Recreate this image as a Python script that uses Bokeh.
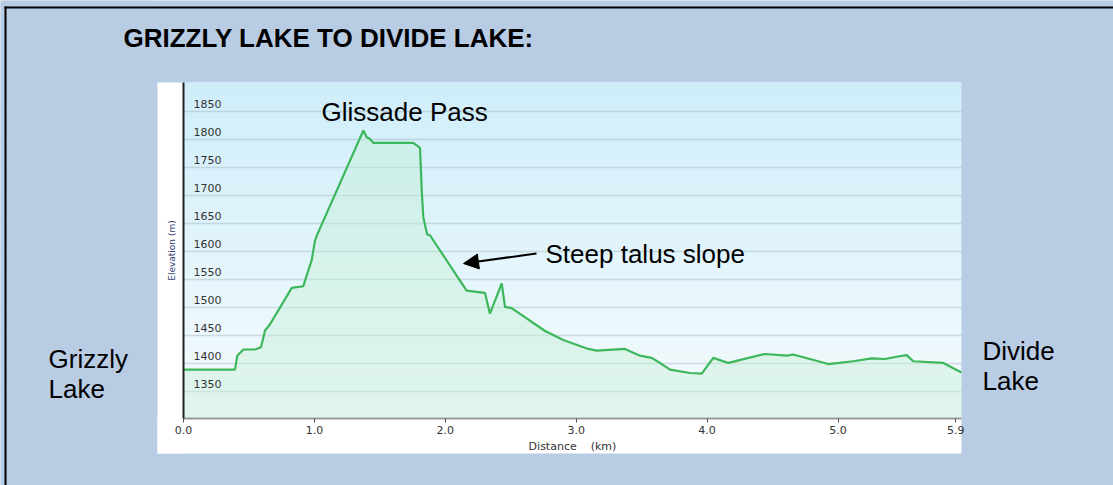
import numpy as np
from bokeh.plotting import figure
from bokeh.models import Label, BoxAnnotation, Arrow, NormalHead, FixedTicker, Range1d, PrintfTickFormatter
from bokeh.core.properties import value
from bokeh.embed import file_html
from bokeh.resources import INLINE

# ---------------- data ----------------
distance_km = [0.000, 0.393, 0.411, 0.457, 0.546, 0.592, 0.623, 0.661, 0.827, 0.915,
               0.953, 0.979, 1.005, 1.025, 1.374, 1.400, 1.425, 1.450, 1.756, 1.807,
               1.820, 1.832, 1.862, 1.883, 2.163, 2.303, 2.341, 2.431, 2.456, 2.507,
               2.762, 2.825, 2.901, 3.092, 3.157, 3.373, 3.487, 3.577, 3.653, 3.717,
               3.869, 3.959, 4.047, 4.162, 4.442, 4.608, 4.658, 4.926, 5.117, 5.257,
               5.359, 5.448, 5.525, 5.575, 5.804, 5.943]
elevation_m = [1389, 1389, 1414, 1425, 1425, 1429, 1459, 1470, 1535, 1538,
               1566, 1584, 1620, 1632, 1816, 1804, 1801, 1794, 1794, 1785,
               1709, 1661, 1630, 1629, 1530, 1526, 1489, 1543, 1501, 1499,
               1458, 1451, 1442, 1426, 1423, 1426, 1414, 1410, 1399, 1389,
               1383, 1382, 1410, 1401, 1417, 1414, 1416, 1399, 1404, 1409,
               1408, 1412, 1415, 1404, 1401, 1384]
y_ticks = [1350, 1400, 1450, 1500, 1550, 1600, 1650, 1700, 1750, 1800, 1850]
y_tick_labels = [str(v) for v in y_ticks]
x_ticks = [0, 1, 2, 3, 4, 5, 5.9]

title_text = "GRIZZLY LAKE TO DIVIDE LAKE:"
x_title = "Distance\u00a0\u00a0\u00a0\u00a0(km)"
y_title = "Elevation (m)"

# ---------------- layout ----------------
W, H = 1113, 485
X0_PX, PX_PER_KM = 183.0, 130.9      # canvas pixel of x = 0 km, scale
Y0_PX, PX_PER_M = 363.0, 28.0 / 50   # canvas pixel of 1400 m, scale
X_END = 5.943
Y_START, Y_END = 1302, 1902

PANEL = "#B8CCE4"


def px2x(px):
    return (px - X0_PX) / PX_PER_KM


def py2y(py):
    return 1400 + (Y0_PX - py) / PX_PER_M


p = figure(width=W, height=H, output_backend="svg", toolbar_location=None,
           x_range=Range1d(px2x(0), px2x(W)), y_range=Range1d(py2y(H), py2y(0)),
           min_border=0, min_border_left=0, min_border_right=0,
           min_border_top=0, min_border_bottom=0)
p.title.visible = False
p.border_fill_color = PANEL
p.background_fill_color = PANEL
p.outline_line_color = None

# gradient background of the chart picture
n = 120
edges = np.linspace(Y_START, Y_END, n + 1)
top_c = np.array([207, 238, 250])
bot_c = np.array([246, 251, 253])
cols = []
for i in range(n):
    t = (edges[i] + edges[i + 1]) / 2
    f = (t - Y_START) / (Y_END - Y_START)
    c = bot_c + (top_c - bot_c) * f
    cols.append("#%02x%02x%02x" % tuple(int(round(v)) for v in c))
p.quad(left=0, right=X_END, bottom=edges[:-1], top=edges[1:], fill_color=cols,
       line_color=cols, line_width=1, level="image")

# grid (horizontal only)
p.xgrid.visible = False
p.ygrid.ticker = FixedTicker(ticks=y_ticks)
p.ygrid.grid_line_color = "#9FB8C0"
p.ygrid.grid_line_alpha = 0.45
p.ygrid.grid_line_width = 1.6

# covers: panel blue left/right of the chart picture, white strips of the picture
p.quad(left=px2x(0), right=px2x(157), bottom=py2y(H), top=py2y(0),
       fill_color=PANEL, line_color=None)
p.quad(left=X_END, right=px2x(W), bottom=py2y(H), top=py2y(0),
       fill_color=PANEL, line_color=None)
p.quad(left=px2x(157), right=0, bottom=py2y(453), top=Y_END,
       fill_color="white", line_color=None)
p.quad(left=px2x(157), right=X_END, bottom=py2y(453), top=Y_START,
       fill_color="white", line_color=None)

# profile
p.varea(x=distance_km, y1=Y_START, y2=elevation_m, fill_color="#C4EED4", fill_alpha=0.42)
p.line(distance_km, elevation_m, line_color="#3DB75B", line_width=2.2)

# x axis (drawn at the bottom of the chart area)
xa = p.xaxis[0]
xa.fixed_location = Y_START
xa.bounds = (0, X_END)
xa.ticker = FixedTicker(ticks=x_ticks)
xa.formatter = PrintfTickFormatter(format="%.1f")
xa.axis_line_color = "#999999"
xa.axis_line_width = 2
xa.major_tick_out = 4
xa.major_tick_in = 0
xa.minor_tick_out = 0
xa.minor_tick_in = 0
xa.major_tick_line_color = "#555555"
xa.major_label_text_font = "DejaVu Sans"
xa.major_label_text_font_size = "11px"
xa.major_label_text_color = "#333333"
xa.major_label_standoff = 4
xa.axis_label = x_title
xa.axis_label_text_font = "DejaVu Sans"
xa.axis_label_text_font_size = "11px"
xa.axis_label_text_font_style = "normal"
xa.axis_label_text_color = "#333333"
xa.axis_label_standoff = 2

# y axis (at x = 0), tick labels are drawn inside the chart
ya = p.yaxis[0]
ya.fixed_location = 0
ya.bounds = (Y_START, Y_END)
ya.ticker = FixedTicker(ticks=[])
ya.axis_line_color = "#222222"
ya.axis_line_width = 2
ya.major_tick_out = 0
ya.major_tick_in = 0
ya.minor_tick_out = 0
ya.minor_tick_in = 0
ya.major_label_standoff = 0
ya.axis_label = y_title
ya.axis_label_text_font = "DejaVu Sans"
ya.axis_label_text_font_size = "9px"
ya.axis_label_text_font_style = "normal"
ya.axis_label_text_color = "#2E3B6E"
ya.axis_label_standoff = 7

p.text(x=[0] * len(y_ticks), y=y_ticks, text=y_tick_labels, x_offset=10, y_offset=-8,
       text_font=value("DejaVu Sans"), text_font_size="11px", text_color="#333333",
       text_align="left", text_baseline="middle")

# panel border (left and top)
p.add_layout(BoxAnnotation(left=px2x(4), right=px2x(6), bottom=py2y(H), top=py2y(6),
                           fill_color="black", fill_alpha=1, line_color=None))
p.add_layout(BoxAnnotation(left=px2x(4), right=px2x(W), bottom=py2y(8), top=py2y(6),
                           fill_color="black", fill_alpha=1, line_color=None))


def lab(txt, px, py, bold=False):
    p.add_layout(Label(x=px2x(px), y=py2y(py), text=txt, text_font="Liberation Sans",
                       text_font_size="26px", text_font_style="bold" if bold else "normal",
                       text_color="black", text_align="left", text_baseline="alphabetic"))


lab(title_text, 123, 37, bold=True)
lab("Glissade Pass", 321, 111)
lab("Steep talus slope", 545, 253)
lab("Grizzly", 48, 358)
lab("Lake", 48, 388)
lab("Divide", 982, 350)
lab("Lake", 982, 380)

p.add_layout(Arrow(end=NormalHead(size=15, fill_color="black", line_color="black"),
                   x_start=px2x(536), y_start=py2y(253), x_end=px2x(463), y_end=py2y(263),
                   line_color="black", line_width=2))

open("out.html", "w").write(file_html(p, INLINE))
